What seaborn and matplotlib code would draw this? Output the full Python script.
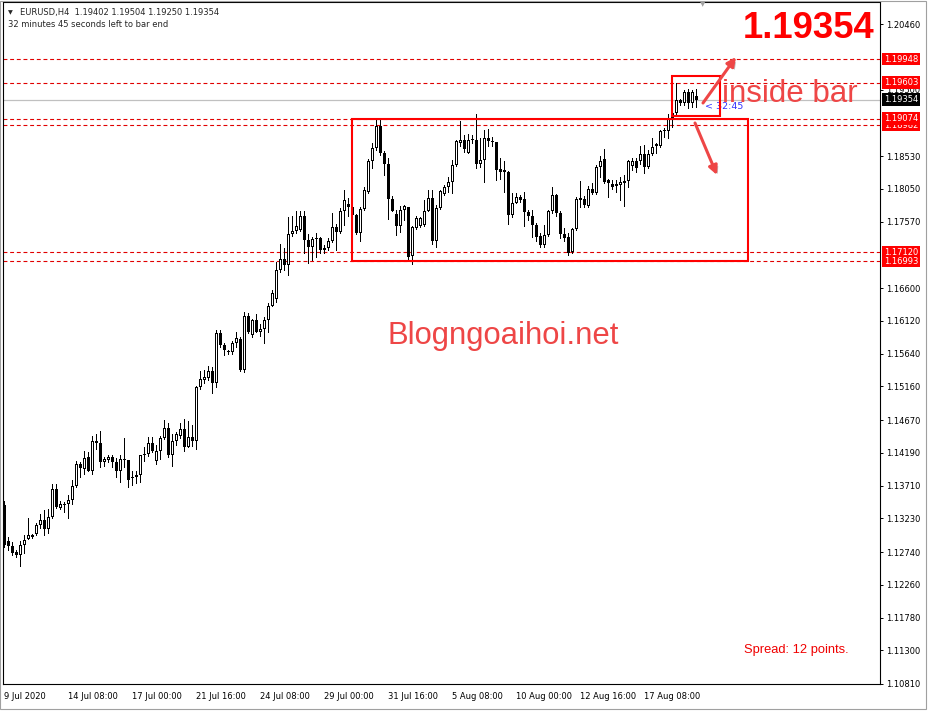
import numpy as np
import pandas as pd
import seaborn as sns
from matplotlib import pyplot as plt
from matplotlib import patheffects
from matplotlib.patches import Rectangle
from matplotlib.transforms import blended_transform_factory

# EURUSD H4 candles (first bar 9 Jul 16:00)
opens = [1.1343, 1.1290, 1.1283, 1.1274, 1.1269, 1.1284, 1.1293, 1.1296, 1.1300, 1.1313,
         1.1321, 1.1307, 1.1325, 1.1366, 1.1339, 1.1343, 1.1344, 1.1350, 1.1370, 1.1402,
         1.1396, 1.1413, 1.1393, 1.1436, 1.1434, 1.1405, 1.1408, 1.1413, 1.1406, 1.1392,
         1.1410, 1.1408, 1.1383, 1.1383, 1.1386, 1.1416, 1.1418, 1.1434, 1.1407, 1.1422,
         1.1440, 1.1456, 1.1416, 1.1437, 1.1443, 1.1454, 1.1428, 1.1442, 1.1437, 1.1515,
         1.1526, 1.1529, 1.1539, 1.1521, 1.1594, 1.1576, 1.1568, 1.1566, 1.1579, 1.1586,
         1.1540, 1.1619, 1.1591, 1.1613, 1.1596, 1.1600, 1.1613, 1.1634, 1.1644, 1.1687,
         1.1703, 1.1694, 1.1739, 1.1743, 1.1745, 1.1765, 1.1730, 1.1720, 1.1731, 1.1733,
         1.1715, 1.1719, 1.1728, 1.1749, 1.1742, 1.1772, 1.1783, 1.1778, 1.1767, 1.1741,
         1.1775, 1.1801, 1.1846, 1.1864, 1.1897, 1.1857, 1.1842, 1.1790, 1.1768, 1.1751,
         1.1774, 1.1778, 1.1707, 1.1747, 1.1750, 1.1752, 1.1773, 1.1791, 1.1728, 1.1777,
         1.1798, 1.1807, 1.1815, 1.1840, 1.1872, 1.1877, 1.1858, 1.1876, 1.1877, 1.1841,
         1.1847, 1.1879, 1.1875, 1.1873, 1.1834, 1.1829, 1.1830, 1.1767, 1.1785, 1.1793,
         1.1790, 1.1771, 1.1766, 1.1752, 1.1736, 1.1723, 1.1737, 1.1772, 1.1796, 1.1769,
         1.1739, 1.1734, 1.1712, 1.1746, 1.1789, 1.1790, 1.1780, 1.1805, 1.1799, 1.1837,
         1.1848, 1.1818, 1.1812, 1.1809, 1.1811, 1.1814, 1.1817, 1.1838, 1.1845, 1.1846,
         1.1856, 1.1837, 1.1856, 1.1868, 1.1868, 1.1889, 1.1890, 1.1909, 1.1916, 1.1935,
         1.1930, 1.1946, 1.1931, 1.19402]
highs = [1.1348, 1.1296, 1.1288, 1.1277, 1.1290, 1.1299, 1.1324, 1.1300, 1.1316, 1.1329,
         1.1336, 1.1337, 1.1374, 1.1374, 1.1348, 1.1347, 1.1357, 1.1380, 1.1407, 1.1406,
         1.1422, 1.1420, 1.1444, 1.1447, 1.1451, 1.1413, 1.1416, 1.1416, 1.1412, 1.1416,
         1.1441, 1.1409, 1.1393, 1.1393, 1.1416, 1.1428, 1.1442, 1.1442, 1.1430, 1.1444,
         1.1467, 1.1462, 1.1447, 1.1450, 1.1462, 1.1468, 1.1465, 1.1460, 1.1517, 1.1539,
         1.1540, 1.1546, 1.1544, 1.1599, 1.1599, 1.1580, 1.1570, 1.1582, 1.1596, 1.1589,
         1.1625, 1.1624, 1.1615, 1.1622, 1.1607, 1.1617, 1.1638, 1.1657, 1.1698, 1.1724,
         1.1718, 1.1764, 1.1765, 1.1772, 1.1773, 1.1772, 1.1739, 1.1735, 1.1741, 1.1734,
         1.1723, 1.1733, 1.1770, 1.1754, 1.1777, 1.1804, 1.1791, 1.1781, 1.1768, 1.1779,
         1.1807, 1.1848, 1.1872, 1.1906, 1.1907, 1.1861, 1.1850, 1.1795, 1.1774, 1.1780,
         1.1781, 1.1779, 1.1750, 1.1765, 1.1764, 1.1789, 1.1803, 1.1804, 1.1781, 1.1803,
         1.1811, 1.1823, 1.1847, 1.1877, 1.1904, 1.1884, 1.1885, 1.1884, 1.1915, 1.1879,
         1.1891, 1.1892, 1.1881, 1.1874, 1.1850, 1.1845, 1.1831, 1.1799, 1.1799, 1.1796,
         1.1801, 1.1774, 1.1774, 1.1755, 1.1741, 1.1752, 1.1774, 1.1808, 1.1797, 1.1772,
         1.1747, 1.1740, 1.1747, 1.1793, 1.1817, 1.1795, 1.1809, 1.1813, 1.1840, 1.1853,
         1.1863, 1.1820, 1.1818, 1.1818, 1.1823, 1.1825, 1.1847, 1.1850, 1.1850, 1.1867,
         1.1869, 1.1862, 1.1880, 1.1872, 1.1891, 1.1894, 1.1915, 1.1919, 1.1960, 1.1937,
         1.1950, 1.1951, 1.1949, 1.19504]
lows = [1.1282, 1.1277, 1.1269, 1.1266, 1.1253, 1.1272, 1.1293, 1.1295, 1.1299, 1.1309,
        1.1299, 1.1302, 1.1323, 1.1339, 1.1337, 1.1333, 1.1323, 1.1344, 1.1369, 1.1384,
        1.1388, 1.1392, 1.1388, 1.1424, 1.1399, 1.1400, 1.1405, 1.1399, 1.1384, 1.1377,
        1.1398, 1.1369, 1.1372, 1.1375, 1.1376, 1.1407, 1.1414, 1.1420, 1.1403, 1.1410,
        1.1439, 1.1413, 1.1400, 1.1431, 1.1440, 1.1421, 1.1427, 1.1429, 1.1424, 1.1512,
        1.1521, 1.1526, 1.1506, 1.1515, 1.1574, 1.1562, 1.1563, 1.1564, 1.1574, 1.1539,
        1.1537, 1.1594, 1.1589, 1.1595, 1.1590, 1.1579, 1.1596, 1.1633, 1.1639, 1.1684,
        1.1687, 1.1679, 1.1736, 1.1741, 1.1743, 1.1711, 1.1697, 1.1701, 1.1706, 1.1711,
        1.1711, 1.1716, 1.1727, 1.1716, 1.1740, 1.1752, 1.1765, 1.1760, 1.1739, 1.1729,
        1.1774, 1.1799, 1.1835, 1.1862, 1.1855, 1.1825, 1.1761, 1.1772, 1.1738, 1.1742,
        1.1760, 1.1703, 1.1695, 1.1746, 1.1749, 1.1751, 1.1772, 1.1725, 1.1720, 1.1775,
        1.1796, 1.1801, 1.1799, 1.1838, 1.1867, 1.1859, 1.1857, 1.1872, 1.1836, 1.1837,
        1.1815, 1.1867, 1.1867, 1.1818, 1.1819, 1.1801, 1.1753, 1.1764, 1.1784, 1.1786,
        1.1750, 1.1760, 1.1735, 1.1728, 1.1720, 1.1720, 1.1736, 1.1770, 1.1765, 1.1733,
        1.1728, 1.1708, 1.1711, 1.1745, 1.1779, 1.1779, 1.1779, 1.1798, 1.1798, 1.1823,
        1.1813, 1.1793, 1.1805, 1.1801, 1.1789, 1.1780, 1.1808, 1.1833, 1.1830, 1.1842,
        1.1828, 1.1835, 1.1855, 1.1857, 1.1866, 1.1881, 1.1879, 1.1896, 1.1915, 1.1928,
        1.1928, 1.1923, 1.1925, 1.19250]
closes = [1.1284, 1.1283, 1.1273, 1.1269, 1.1284, 1.1291, 1.1299, 1.1299, 1.1313, 1.1321,
          1.1307, 1.1325, 1.1366, 1.1340, 1.1344, 1.1344, 1.1350, 1.1370, 1.1402, 1.1397,
          1.1411, 1.1393, 1.1436, 1.1433, 1.1405, 1.1410, 1.1413, 1.1405, 1.1392, 1.1410,
          1.1408, 1.1380, 1.1382, 1.1386, 1.1416, 1.1417, 1.1434, 1.1422, 1.1422, 1.1440,
          1.1456, 1.1416, 1.1437, 1.1446, 1.1454, 1.1428, 1.1442, 1.1437, 1.1515, 1.1527,
          1.1530, 1.1539, 1.1521, 1.1594, 1.1576, 1.1569, 1.1566, 1.1579, 1.1587, 1.1540,
          1.1619, 1.1596, 1.1613, 1.1596, 1.1600, 1.1613, 1.1634, 1.1652, 1.1687, 1.1703,
          1.1694, 1.1739, 1.1743, 1.1750, 1.1765, 1.1730, 1.1720, 1.1731, 1.1733, 1.1715,
          1.1719, 1.1728, 1.1749, 1.1742, 1.1772, 1.1789, 1.1778, 1.1767, 1.1740, 1.1775,
          1.1803, 1.1846, 1.1864, 1.1897, 1.1857, 1.1842, 1.1790, 1.1773, 1.1751, 1.1774,
          1.1780, 1.1706, 1.1749, 1.1762, 1.1762, 1.1773, 1.1791, 1.1728, 1.1777, 1.1802,
          1.1807, 1.1815, 1.1840, 1.1875, 1.1877, 1.1863, 1.1877, 1.1877, 1.1841, 1.1847,
          1.1879, 1.1875, 1.1873, 1.1833, 1.1830, 1.1832, 1.1767, 1.1784, 1.1793, 1.1789,
          1.1771, 1.1765, 1.1752, 1.1735, 1.1723, 1.1737, 1.1772, 1.1796, 1.1769, 1.1739,
          1.1733, 1.1711, 1.1746, 1.1790, 1.1791, 1.1782, 1.1805, 1.1799, 1.1837, 1.1846,
          1.1815, 1.1814, 1.1807, 1.1812, 1.1815, 1.1817, 1.1845, 1.1845, 1.1835, 1.1856,
          1.1837, 1.1856, 1.1866, 1.1871, 1.1889, 1.1891, 1.1909, 1.1916, 1.1935, 1.1930,
          1.1946, 1.1931, 1.1946, 1.19354]

date_ticks = [0, 16, 32, 48, 64, 80, 96, 112, 128, 144, 160]
date_labels = ['9 Jul 2020', '14 Jul 08:00', '17 Jul 00:00', '21 Jul 16:00',
               '24 Jul 08:00', '29 Jul 00:00', '31 Jul 16:00', '5 Aug 08:00',
               '10 Aug 00:00', '12 Aug 16:00', '17 Aug 08:00']
price_ticks = [1.20460, 1.19500, 1.18530, 1.18050, 1.17570, 1.16600, 1.16120,
               1.15640, 1.15160, 1.14670, 1.14190, 1.13710, 1.13230, 1.12740,
               1.12260, 1.11780, 1.11300, 1.10810]
levels = [1.19948, 1.19603, 1.19074, 1.18982, 1.17120, 1.16993]
bid = 1.19354

W, H = 929, 711
RED = '#FF0000'
SOFT_RED = '#EE4646'
YMIN, YMAX = 1.10810, 1.20789
AX_W, AX_H = 877, 682.5          # plot area in pixels
PX = (YMAX - YMIN) / AX_H         # one pixel in price units

sns.set_style('white')
plt.rcParams['font.family'] = ['DejaVu Sans']

fig = plt.figure(figsize=(W / 100, H / 100), dpi=100)
ax = fig.add_axes([3 / W, 1 - 684 / H, AX_W / W, AX_H / H])

bars = pd.DataFrame({'open': opens, 'high': highs, 'low': lows, 'close': closes})
bars['bar'] = np.arange(len(bars))

# wicks: one short line per candle
wicks = pd.DataFrame({
    'bar': np.repeat(bars['bar'].values, 2),
    'price': np.column_stack([bars['low'], bars['high']]).ravel(),
})
sns.lineplot(data=wicks, x='bar', y='price', units='bar', estimator=None,
             color='black', linewidth=0.72, antialiased=False, legend=False, ax=ax)

# bodies: black 3px block, bullish ones get a white 1px core
body_lo = bars[['open', 'close']].min(axis=1)
body_h = (bars['close'] - bars['open']).abs().clip(lower=PX)
ax.bar(bars['bar'], body_h, bottom=body_lo, width=0.75, color='black',
       linewidth=0, antialiased=False, zorder=3)
bull = (bars['close'] > bars['open']) & (body_h > 2.5 * PX)
ax.bar(bars['bar'][bull], body_h[bull] - 2 * PX, bottom=body_lo[bull] + PX, width=0.25,
       color='white', linewidth=0, antialiased=False, zorder=4)

# horizontal levels
for lv in levels:
    ax.axhline(lv, color='#E00000', lw=0.8, ls=(0, (3.5, 2.5)), zorder=1)
ax.axhline(bid, color='#C0C0C0', lw=0.9, zorder=1)

# boxes
ax.add_patch(Rectangle((87, levels[5]), 99, levels[2] - levels[5], fill=False,
                       ec=RED, lw=1.5, zorder=5))
ax.add_patch(Rectangle((167, 1.19115), 12, 1.19700 - 1.19115, fill=False,
                       ec=RED, lw=1.5, zorder=5))

ax.text(175.2, 1.19255, '< 32:45', color='#3030FF', fontsize=6.8, va='center', zorder=4)

ax.set_xlim(-0.375, -0.375 + AX_W / 4)
ax.set_ylim(YMIN, YMAX)
ax.set_xlabel('')
ax.set_ylabel('')

ax.yaxis.tick_right()
ax.set_yticks(price_ticks, [f'{p:.5f}' for p in price_ticks])
ax.set_xticks(date_ticks, date_labels, ha='left')
ax.tick_params(axis='y', direction='out', length=2.2, width=0.7, pad=2,
               labelsize=6, colors='black', right=True, left=False)
ax.tick_params(axis='x', direction='out', length=3, width=0.7, pad=2.5,
               labelsize=6, colors='black')
for s in ax.spines.values():
    s.set_color('black')
    s.set_linewidth(0.8)

# price tags on the right scale (lower tag of each close pair drawn first)
tag_tr = blended_transform_factory(ax.transAxes, ax.transData)
tags = [(levels[3], RED), (levels[2], RED), (levels[4], RED), (levels[5], RED),
        (levels[0], RED), (levels[1], RED), (bid, 'black')]
for lv, col in tags:
    ax.text(1 + 4 / AX_W, lv, f'{lv:.5f}', transform=tag_tr, color='white', fontsize=6,
            va='center', ha='left', clip_on=False, zorder=6,
            bbox=dict(boxstyle='square,pad=0.22', fc=col, ec='none'))

# header
fig.text(10 / W, 1 - 12.5 / H, '\u25BC', fontsize=4.5, va='center', ha='center')
fig.text(20 / W, 1 - 12.3 / H, 'EURUSD,H4  1.19402 1.19504 1.19250 1.19354',
         fontsize=6, va='center')
fig.text(8 / W, 1 - 24.3 / H, '32 minutes 45 seconds left to bar end',
         fontsize=6, va='center')
fig.text(703 / W, 1 - 4 / H, '\u25BC', fontsize=5, color='#A0A0A0', va='center', ha='center')

# annotations
fig.text(875 / W, 1 - 38.5 / H, f'{bid:.5f}', color=RED, fontsize=26.3,
         fontweight='bold', family=['Liberation Sans'], ha='right', va='baseline')
fig.text(503 / W, 1 - 344 / H, 'Blogngoaihoi.net', color=SOFT_RED, fontsize=22.3,
         family=['Liberation Sans'], ha='center', va='baseline')
fig.text(722 / W, 1 - 102.5 / H, 'inside bar', color=SOFT_RED, fontsize=22.5,
         family=['Liberation Sans'], ha='left', va='baseline')
fig.text(744 / W, 1 - 653 / H, 'Spread: 12 points.', color='#F00000', fontsize=9.3,
         family=['Liberation Sans'], ha='left', va='baseline')

shadow = [patheffects.withSimplePatchShadow(offset=(1.5, -1.5), shadow_rgbFace='#888888', alpha=0.5)]
for start, end in [((703, 103), (736, 57)), ((695, 123), (717, 175))]:
    ax.annotate('', xy=(end[0], H - end[1]), xytext=(start[0], H - start[1]),
                xycoords='figure pixels', textcoords='figure pixels',
                arrowprops=dict(arrowstyle='-|>', color=SOFT_RED, lw=2.2,
                                mutation_scale=13, shrinkA=0, shrinkB=0,
                                path_effects=shadow),
                zorder=7, annotation_clip=False)

# window border
fig.add_artist(Rectangle((0.5 / W, 2 / H), 926 / W, 708.5 / H, transform=fig.transFigure,
                         fill=False, ec='#A0A0A0', lw=0.8))

fig.savefig('out.png', dpi=100)
